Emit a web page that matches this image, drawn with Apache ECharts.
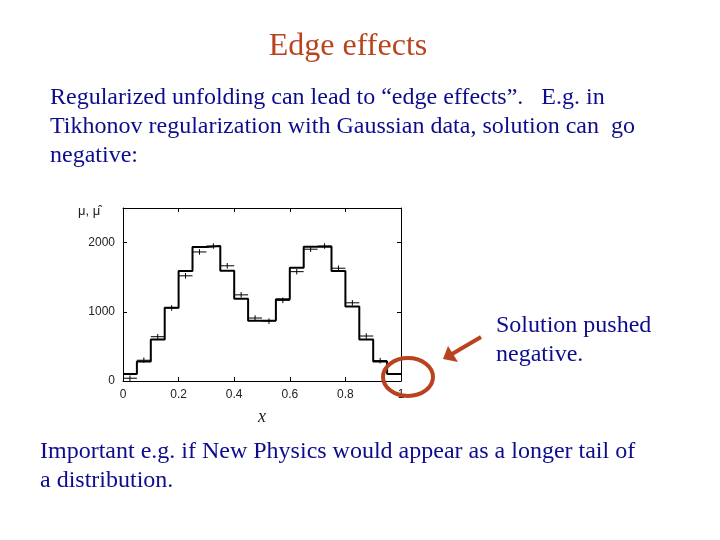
<!DOCTYPE html>
<html>
<head>
<meta charset="utf-8">
<title>Edge effects</title>
<script src="https://cdn.jsdelivr.net/npm/echarts@6/dist/echarts.min.js"></script>
<style>
  html, body { margin: 0; padding: 0; background: #fff; }
  #main { width: 720px; height: 540px; }
</style>
</head>
<body>
<div id="main"></div>
<script>
// bin lower edges, width 0.05
var binLow = [0, 0.05, 0.1, 0.15, 0.2, 0.25, 0.3, 0.35, 0.4, 0.45,
              0.5, 0.55, 0.6, 0.65, 0.7, 0.75, 0.8, 0.85, 0.9, 0.95];
var binWidth = 0.05;
// true histogram mu
var trueMu = [100, 280, 600, 1060, 1590, 1935, 1950, 1595, 1190, 870,
              875, 1180, 1635, 1940, 1945, 1590, 1075, 600, 280, 100];
// unfolded estimate mu-hat (last bin goes negative, hidden under the circle)
var estMu = [40, 300, 640, 1055, 1520, 1865, 1950, 1665, 1245, 910,
             865, 1165, 1580, 1905, 1950, 1630, 1130, 650, 295, -60];
var estErr = 40;
var xTicks = [0, 0.2, 0.4, 0.6, 0.8, 1];
var yTicks = [0, 1000, 2000];

var serif = 'Liberation Serif, Times New Roman, serif';
var blue = '#0c0c8c';
var rust = '#b9431e';

var myChart = echarts.init(document.getElementById('main'));

// step outline: a point at every lower edge plus the right end
var stepData = binLow.map(function (x, i) { return [x, trueMu[i]]; });
stepData.push([binLow[binLow.length - 1] + binWidth, trueMu[trueMu.length - 1]]);

var crossData = binLow.map(function (x, i) { return [x + binWidth / 2, estMu[i]]; });

var axisLine = { show: true, onZero: false, lineStyle: { color: '#000', width: 1 } };
var tick = { show: true, inside: true, length: 4, lineStyle: { color: '#000' } };
var yTick = { show: true, inside: true, length: 4, lineStyle: { color: '#000' }, customValues: yTicks };
var labelFont = { color: '#222', fontFamily: 'Liberation Sans, Arial', fontSize: 12, margin: 8 };

var option = {
  animation: false,
  grid: { left: 123, right: 319, top: 208, bottom: 159 },
  xAxis: [
    {
      type: 'value', min: 0, max: 1, interval: 0.2,
      axisLine: axisLine, axisTick: tick, splitLine: { show: false },
      axisLabel: Object.assign({
        formatter: function (v) { return String(+v.toFixed(2)); }
      }, labelFont),
      name: 'x', nameLocation: 'middle', nameGap: 27,
      nameTextStyle: { fontFamily: serif, fontStyle: 'italic', fontSize: 18, color: '#222' }
    },
    {
      type: 'value', position: 'top', min: 0, max: 1, interval: 0.2,
      axisLine: axisLine, axisTick: tick, axisLabel: { show: false }, splitLine: { show: false }
    }
  ],
  yAxis: [
    {
      type: 'value', min: 0, max: 2500, interval: 500,
      axisLine: axisLine, splitLine: { show: false }, axisTick: yTick,
      axisLabel: Object.assign({
        customValues: yTicks,
        formatter: function (v) { return String(v); }
      }, labelFont)
    },
    {
      type: 'value', position: 'right', min: 0, max: 2500, interval: 500,
      axisLine: axisLine, splitLine: { show: false }, axisLabel: { show: false },
      axisTick: yTick
    }
  ],
  series: [
    {
      type: 'line', step: 'end', data: stepData, symbol: 'none',
      lineStyle: { color: '#000', width: 2 }, z: 3
    },
    {
      type: 'custom', data: crossData, clip: true, z: 4,
      renderItem: function (params, api) {
        var x = api.value(0), v = api.value(1);
        var l = api.coord([x - binWidth / 2, v]);
        var r = api.coord([x + binWidth / 2, v]);
        var t = api.coord([x, v + estErr]);
        var b = api.coord([x, v - estErr]);
        var st = { stroke: '#000', lineWidth: 1 };
        return {
          type: 'group',
          children: [
            { type: 'line', shape: { x1: l[0], y1: l[1], x2: r[0], y2: r[1] }, style: st },
            { type: 'line', shape: { x1: t[0], y1: t[1], x2: b[0], y2: b[1] }, style: st }
          ]
        };
      }
    }
  ],
  graphic: [
    { type: 'text', x: 348, y: 31,
      style: { text: 'Edge effects', fill: rust, font: '32px ' + serif, textAlign: 'center' } },
    { type: 'text', x: 50, y: 83,
      style: { text: 'Regularized unfolding can lead to \u201cedge effects\u201d.   E.g. in\nTikhonov regularization with Gaussian data, solution can  go\nnegative:',
               fill: blue, font: '24px ' + serif, lineHeight: 29 } },
    { type: 'text', x: 40, y: 437,
      style: { text: 'Important e.g. if New Physics would appear as a longer tail of\na distribution.',
               fill: blue, font: '24px ' + serif, lineHeight: 29 } },
    { type: 'text', x: 496, y: 311,
      style: { text: 'Solution pushed\nnegative.', fill: blue, font: '24px ' + serif, lineHeight: 29 } },
    { type: 'text', x: 78, y: 205,
      style: { text: '\u03bc, \u03bc\u0302', fill: '#222', font: '13px Liberation Sans, Arial' } },
    { type: 'ellipse', shape: { cx: 408, cy: 377, rx: 25, ry: 19 }, z: 100,
      style: { fill: 'none', stroke: rust, lineWidth: 4 } },
    { type: 'line', shape: { x1: 481, y1: 337, x2: 452, y2: 354 }, z: 100,
      style: { stroke: rust, lineWidth: 4 } },
    { type: 'polygon', shape: { points: [[443, 359], [448, 346], [458, 362]] }, z: 100,
      style: { fill: rust } }
  ]
};

myChart.setOption(option);
</script>
</body>
</html>
